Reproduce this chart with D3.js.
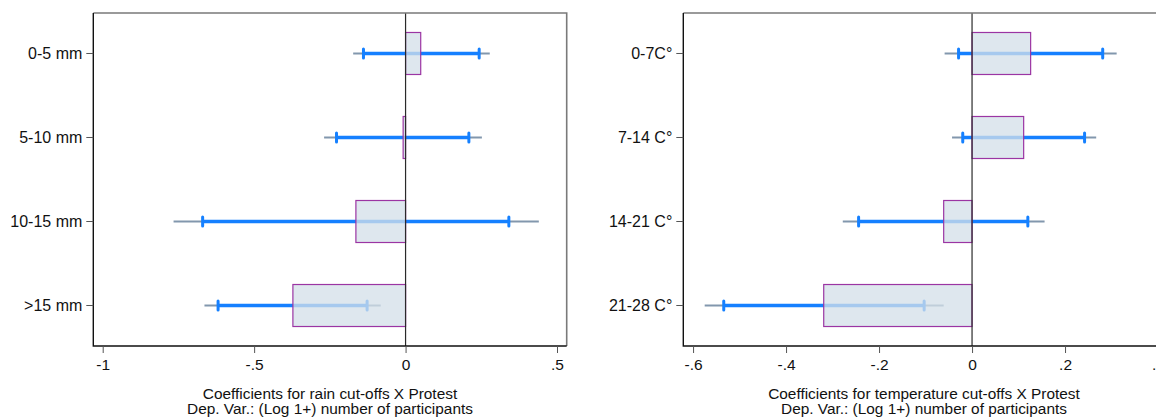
<!DOCTYPE html>
<meta charset="utf-8">
<style>
  body { margin: 0; background: #fff; }
  svg text { font-family: "Liberation Sans", Arial, sans-serif; fill: #111; }
</style>
<script src="https://d3js.org/d3.v7.min.js"></script>
<div id="chart"></div>
<script>

// rain cut-offs (left panel)
var rainCats = ["0-5 mm", "5-10 mm", "10-15 mm", ">15 mm"];
var rainCoef = [0.050, -0.008, -0.164, -0.372];
var rainLo90 = [-0.139, -0.228, -0.670, -0.619];
var rainHi90 = [0.243, 0.209, 0.341, -0.127];
var rainLo95 = [-0.173, -0.269, -0.766, -0.664];
var rainHi95 = [0.278, 0.252, 0.440, -0.082];
var rainTicks = [-1, -0.5, 0, 0.5];
var rainTickLabels = ["-1", "-.5", "0", ".5"];

// temperature cut-offs (right panel)
var tempCats = ["0-7C°", "7-14 C°", "14-21 C°", "21-28 C°"];
var tempCoef = [0.126, 0.111, -0.061, -0.319];
var tempLo90 = [-0.029, -0.020, -0.244, -0.534];
var tempHi90 = [0.281, 0.242, 0.120, -0.103];
var tempLo95 = [-0.059, -0.043, -0.278, -0.575];
var tempHi95 = [0.311, 0.267, 0.156, -0.061];
var tempTicks = [-0.6, -0.4, -0.2, 0, 0.2, 0.4];
var tempTickLabels = ["-.6", "-.4", "-.2", "0", ".2", ".4"];

var W = 1156, H = 419;
var plotTop = 13, plotBottom = 346;

var svg = d3.select("#chart")
  .append("svg")
    .attr("width", W)
    .attr("height", H);

function panel(opts) {
  var x = d3.scaleLinear().domain(opts.domain).range([opts.x0, opts.x1]);
  var y = d3.scaleBand()
    .domain(opts.cats)
    .range([plotTop, plotBottom])
    .paddingInner(0.5)
    .paddingOuter(0.232);

  var g = svg.append("g");
  var rows = opts.cats.map(function(c, i) {
    return { cat: c, coef: opts.coef[i], lo90: opts.lo90[i], hi90: opts.hi90[i],
             lo95: opts.lo95[i], hi95: opts.hi95[i] };
  });
  var cy = function(d) { return y(d.cat) + y.bandwidth() / 2; };

  // 95% intervals
  g.selectAll(".ci95").data(rows).enter().append("line")
    .attr("x1", function(d) { return x(d.lo95); })
    .attr("x2", function(d) { return x(d.hi95); })
    .attr("y1", cy).attr("y2", cy)
    .attr("stroke", "#8297ad")
    .attr("stroke-width", 2.2);

  // 90% intervals
  g.selectAll(".ci90").data(rows).enter().append("line")
    .attr("x1", function(d) { return x(d.lo90); })
    .attr("x2", function(d) { return x(d.hi90); })
    .attr("y1", cy).attr("y2", cy)
    .attr("stroke", "#1580ff")
    .attr("stroke-width", 3.6);

  // caps
  var caps = [];
  rows.forEach(function(d) { caps.push({ v: d.lo90, d: d }); caps.push({ v: d.hi90, d: d }); });
  g.selectAll(".cap").data(caps).enter().append("line")
    .attr("x1", function(c) { return x(c.v); })
    .attr("x2", function(c) { return x(c.v); })
    .attr("y1", function(c) { return cy(c.d) - 4.5; })
    .attr("y2", function(c) { return cy(c.d) + 4.5; })
    .attr("stroke", "#1580ff")
    .attr("stroke-width", 3)
    .attr("stroke-linecap", "round");

  // coefficient bars
  g.selectAll(".bar").data(rows).enter().append("rect")
    .attr("x", function(d) { return x(Math.min(0, d.coef)); })
    .attr("y", function(d) { return y(d.cat); })
    .attr("width", function(d) { return Math.abs(x(d.coef) - x(0)); })
    .attr("height", y.bandwidth())
    .attr("fill", "#d4dfe9")
    .attr("fill-opacity", 0.76)
    .attr("stroke", "#9b35a3")
    .attr("stroke-width", 1.2);

  // zero line
  g.append("line")
    .attr("x1", x(0)).attr("x2", x(0))
    .attr("y1", plotTop).attr("y2", plotBottom)
    .attr("stroke", "#2a2a2a")
    .attr("stroke-width", 1.2);

  // plot frame
  g.append("path")
    .attr("d", "M" + opts.x0 + "," + plotTop + "H" + opts.x1 + "V" + plotBottom)
    .attr("fill", "none")
    .attr("stroke", "#7a7a7a")
    .attr("stroke-width", 1.6);
  g.append("path")
    .attr("d", "M" + opts.x0 + "," + plotTop + "V" + plotBottom + "H" + opts.x1)
    .attr("fill", "none")
    .attr("stroke", "#111")
    .attr("stroke-width", 1.4);

  // x axis
  var xa = g.append("g")
    .attr("transform", "translate(0," + plotBottom + ")")
    .call(d3.axisBottom(x).tickValues(opts.ticks).tickSize(7).tickPadding(6)
      .tickFormat(function(d, i) { return opts.tickLabels[i]; }));
  xa.select(".domain").remove();
  xa.selectAll(".tick line").attr("stroke", "#555");
  xa.selectAll("text").style("font-size", "15.5px").attr("fill", "#111")
    .attr("font-family", "'Liberation Sans', Arial, sans-serif");

  // y axis
  var ya = g.append("g")
    .attr("transform", "translate(" + opts.x0 + ",0)")
    .call(d3.axisLeft(y).tickSize(7).tickPadding(4));
  ya.select(".domain").remove();
  ya.selectAll(".tick line").attr("stroke", "#555");
  ya.selectAll("text").style("font-size", "16px").attr("fill", "#111")
    .attr("font-family", "'Liberation Sans', Arial, sans-serif");

  // axis title
  g.append("text")
    .attr("x", opts.titleX).attr("y", 398.5)
    .attr("text-anchor", "middle")
    .style("font-size", "15.4px")
    .text(opts.title1);
  g.append("text")
    .attr("x", opts.titleX).attr("y", 413.5)
    .attr("text-anchor", "middle")
    .style("font-size", "15.4px")
    .text("Dep. Var.: (Log 1+) number of participants");
}

panel({
  cats: rainCats, coef: rainCoef, lo90: rainLo90, hi90: rainHi90, lo95: rainLo95, hi95: rainHi95,
  domain: [-1.031, 0.532], x0: 93.3, x1: 566.7,
  ticks: rainTicks, tickLabels: rainTickLabels,
  titleX: 330, title1: "Coefficients for rain cut-offs X Protest"
});

panel({
  cats: tempCats, coef: tempCoef, lo90: tempLo90, hi90: tempHi90, lo95: tempLo95, hi95: tempHi95,
  domain: [-0.621, 0.421], x0: 683.3, x1: 1167.8,
  ticks: tempTicks, tickLabels: tempTickLabels,
  titleX: 924, title1: "Coefficients for temperature cut-offs X Protest"
});

</script>
